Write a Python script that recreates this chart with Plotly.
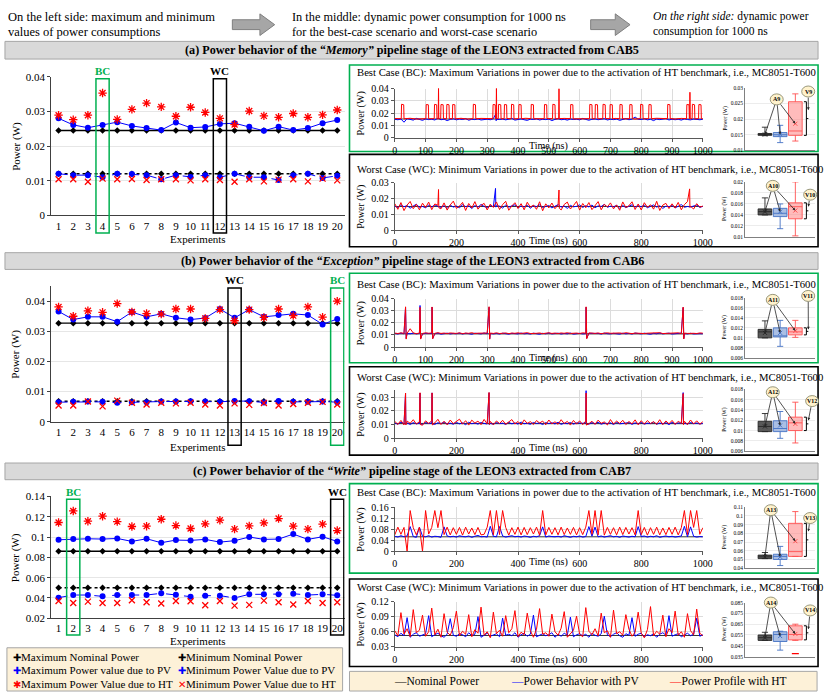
import plotly.graph_objects as go

W, H = 831, 698
SERIF = 'Liberation Serif'
BLUE = '#0000ff'
RED = '#ff0000'
GREEN = '#00b050'

# ════════════════════════════════════════════════════════════════════
#  Left: max / min power per experiment (W)
# ════════════════════════════════════════════════════════════════════
EXPERIMENTS = list(range(1, 21))

A_MAX_NOM, A_MIN_NOM = 0.0245, 0.0120
A_MAX_PV = [0.0280, 0.0261, 0.0253, 0.0261, 0.0269, 0.0258, 0.0252, 0.0246, 0.0268, 0.0253,
            0.0255, 0.0264, 0.0266, 0.0256, 0.0244, 0.0256, 0.0246, 0.0252, 0.0266, 0.0275]
A_MAX_HT = [0.0289, 0.0276, 0.0289, 0.0353, 0.0277, 0.0306, 0.0324, 0.0313, 0.0286, 0.0312,
            0.0297, 0.0280, 0.0262, 0.0301, 0.0287, 0.0283, 0.0294, 0.0283, 0.0290, 0.0304]
A_MIN_PV = [0.0120, 0.0116, 0.0116, 0.0110, 0.0120, 0.0119, 0.0116, 0.0104, 0.0116, 0.0111,
            0.0116, 0.0110, 0.0120, 0.0110, 0.0110, 0.0102, 0.0116, 0.0120, 0.0108, 0.0114]
A_MIN_HT = [0.0104, 0.0104, 0.0097, 0.0106, 0.0104, 0.0105, 0.0102, 0.0104, 0.0104, 0.0101,
            0.0104, 0.0102, 0.0097, 0.0104, 0.0098, 0.0103, 0.0104, 0.0098, 0.0106, 0.0101]

B_MAX_NOM, B_MIN_NOM = 0.0327, 0.0068
B_MAX_PV = [0.0366, 0.0339, 0.0348, 0.0348, 0.0332, 0.0364, 0.0348, 0.0358, 0.0345, 0.0339,
            0.0344, 0.0374, 0.0345, 0.0372, 0.0348, 0.0354, 0.0358, 0.0354, 0.0323, 0.0341]
B_MAX_HT = [0.0381, 0.0350, 0.0368, 0.0363, 0.0392, 0.0364, 0.0359, 0.0357, 0.0374, 0.0374,
            0.0343, 0.0372, 0.0335, 0.0372, 0.0346, 0.0374, 0.0352, 0.0381, 0.0347, 0.0400]
B_MIN_PV = [0.0065, 0.0066, 0.0067, 0.0066, 0.0063, 0.0065, 0.0065, 0.0067, 0.0067, 0.0068,
            0.0067, 0.0066, 0.0069, 0.0068, 0.0064, 0.0069, 0.0066, 0.0066, 0.0067, 0.0065]
B_MIN_HT = [0.0054, 0.0054, 0.0067, 0.0051, 0.0070, 0.0063, 0.0057, 0.0063, 0.0061, 0.0063,
            0.0057, 0.0054, 0.0061, 0.0056, 0.0062, 0.0054, 0.0059, 0.0063, 0.0066, 0.0057]

C_MAX_NOM, C_MIN_NOM = 0.0860, 0.0500
C_MAX_PV = [0.0973, 0.0980, 0.0983, 0.0980, 0.0986, 0.0957, 0.0983, 0.0944, 0.0970, 0.0967,
            0.0977, 0.0950, 0.0964, 0.1000, 0.0977, 0.0980, 0.1029, 0.0977, 0.1003, 0.0957]
C_MAX_HT = [0.1143, 0.1257, 0.1156, 0.1205, 0.1152, 0.1104, 0.1107, 0.1175, 0.1113, 0.1084,
            0.1130, 0.1166, 0.1078, 0.1110, 0.1140, 0.1182, 0.1107, 0.1078, 0.1127, 0.1064]
C_MIN_PV = [0.0403, 0.0429, 0.0429, 0.0416, 0.0429, 0.0429, 0.0429, 0.0446, 0.0433, 0.0413,
            0.0423, 0.0423, 0.0400, 0.0436, 0.0436, 0.0436, 0.0442, 0.0429, 0.0436, 0.0426]
C_MIN_HT = [0.0371, 0.0351, 0.0364, 0.0351, 0.0351, 0.0377, 0.0358, 0.0345, 0.0371, 0.0367,
            0.0328, 0.0371, 0.0325, 0.0332, 0.0374, 0.0358, 0.0335, 0.0371, 0.0351, 0.0358]

# ════════════════════════════════════════════════════════════════════
#  Middle: power over 1000 ns (mW)
#  base series sampled every 10 ns, plus narrow spikes as (time ns, mW)
# ════════════════════════════════════════════════════════════════════
T_NS = list(range(0, 1001, 10))

A_BC_NOM = 15.2
A_BC_PV = [15.0, 14.6, 15.2, 12.6, 15.5, 14.8, 14.3, 15.7, 14.9, 14.1,
           15.3, 14.7, 15.0, 14.4, 15.8, 14.6, 15.1, 13.9, 14.9, 15.4,
           14.5, 15.2, 14.8, 15.6, 14.2, 15.0, 14.7, 15.3, 14.4, 14.9,
           15.1, 14.6, 15.5, 15.0, 14.8, 15.2, 14.5, 15.0, 15.7, 14.3,
           14.9, 15.3, 14.6, 14.1, 15.1, 14.8, 15.4, 14.4, 15.0, 14.7,
           15.2, 13.9, 14.9, 15.5, 14.6, 15.0, 14.3, 15.2, 14.8, 15.1,
           14.5, 15.7, 14.9, 14.2, 15.0, 15.3, 14.6, 14.8, 15.5, 14.4,
           15.0, 14.7, 15.2, 14.1, 14.9, 15.6, 14.6, 15.1, 16.8, 15.0,
           14.8, 15.4, 14.5, 15.0, 13.9, 15.2, 14.7, 14.9, 15.6, 14.4,
           15.1, 14.6, 15.0, 14.3, 15.3, 14.8, 14.5, 15.2, 14.9, 14.6, 15.0]
A_BC_PV_SPIKES = [(328, 19.5), (329, 13.8)]
# HT profile of the best case (a): (time ns, mW) with its pulses and spikes
A_BC_HT = [(0, 15.6), (10, 15.3), (21, 15.5), (22, 27.2), (29, 26.8), (30, 15.4), (50, 15.8), (70, 15.2), (90, 15.6),
           (101, 15.5), (102, 27.0), (109, 26.8), (110, 15.4), (118, 15.7),
           (128, 15.5), (129, 27.1), (136, 26.8), (137, 15.3), (141, 15.5), (142, 40.5), (143, 15.4),
           (149, 15.5), (150, 27.0), (157, 26.8), (158, 15.5), (168, 15.4), (169, 27.1), (176, 26.8), (177, 15.6),
           (187, 15.5), (188, 27.0), (195, 26.8), (196, 15.3), (215, 15.8), (235, 15.2),
           (254, 15.5), (255, 27.2), (262, 26.8), (263, 15.4), (280, 15.7), (300, 15.3),
           (318, 15.5), (319, 27.0), (326, 26.8), (327, 15.5), (329, 15.5), (330, 42.0), (331, 15.4),
           (336, 15.5), (337, 27.1), (344, 26.8), (345, 15.4), (355, 15.5), (356, 27.0), (363, 26.8), (364, 15.6),
           (378, 15.5), (379, 27.2), (386, 26.8), (387, 15.3), (402, 15.5), (403, 27.0), (410, 26.8), (411, 15.5),
           (425, 15.8), (442, 15.5), (443, 27.1), (450, 26.8), (451, 15.4), (465, 15.2),
           (485, 15.5), (486, 27.0), (493, 26.8), (494, 15.6), (512, 15.5), (513, 27.2), (520, 26.8), (521, 15.4),
           (532, 15.5), (533, 40.0), (534, 15.5), (550, 15.7),
           (570, 15.5), (571, 27.0), (578, 26.8), (579, 15.3), (600, 15.6), (615, 15.2),
           (632, 15.5), (633, 27.1), (640, 26.8), (641, 15.5), (650, 15.5), (651, 27.0), (658, 26.8), (659, 15.4),
           (675, 15.5), (676, 27.2), (683, 26.8), (684, 15.6), (698, 15.5), (699, 27.0), (706, 26.8), (707, 15.3),
           (715, 15.7), (730, 15.5), (731, 27.1), (738, 26.8), (739, 15.5), (745, 15.4),
           (762, 15.5), (763, 27.0), (770, 26.8), (771, 15.6), (780, 15.2),
           (797, 15.5), (798, 27.2), (805, 26.8), (806, 15.4), (824, 15.5), (825, 27.0), (832, 26.8), (833, 15.5),
           (850, 15.8), (870, 15.3), (885, 15.5), (886, 27.1), (893, 26.8), (894, 15.6), (910, 15.2), (930, 15.7),
           (947, 15.5), (948, 27.0), (955, 26.8), (956, 15.5), (957, 15.5), (958, 37.0), (959, 15.4),
           (965, 15.5), (966, 27.2), (973, 26.8), (974, 15.3), (986, 15.5), (987, 27.0), (994, 26.8), (995, 15.5),
           (1000, 15.4)]

A_WC_NOM = 15.0
A_WC_PV = [15.2, 14.3, 16.1, 14.8, 15.6, 13.9, 15.3, 16.4, 14.5, 15.0,
           14.2, 15.8, 14.7, 16.0, 15.1, 14.4, 15.5, 13.8, 15.9, 14.6,
           15.3, 14.1, 16.2, 14.9, 15.4, 13.7, 15.6, 14.5, 16.3, 15.0,
           14.3, 15.7, 14.8, 15.5, 15.2, 14.0, 15.9, 14.6, 15.4, 16.1,
           14.2, 15.3, 14.7, 15.8, 13.9, 15.5, 14.9, 16.0, 14.4, 15.2,
           15.6, 14.1, 15.0, 16.2, 14.6, 15.3, 13.8, 15.7, 14.8, 15.1,
           16.0, 14.4, 15.5, 14.7, 15.9, 14.2, 15.4, 15.0, 16.3, 14.5,
           15.2, 14.8, 15.7, 13.9, 15.6, 14.3, 15.1, 16.1, 14.7, 15.4,
           14.9, 15.8, 14.2, 15.3, 16.0, 14.6, 15.5, 13.8, 15.2, 14.9,
           15.6, 14.1, 15.4, 16.2, 14.5, 15.0, 14.7, 15.3, 15.9, 14.4, 15.1]
A_WC_PV_SPIKES = [(327, 26.5), (328, 14.6)]
A_WC_HT = [16.8, 13.2, 17.5, 12.4, 15.9, 18.2, 13.6, 16.4, 12.9, 17.1,
           14.3, 17.8, 13.0, 16.6, 15.8, 13.5, 17.3, 12.7, 16.0, 18.4,
           13.8, 15.2, 17.6, 12.5, 16.9, 14.0, 18.1, 13.3, 15.7, 17.0,
           12.8, 16.5, 14.4, 17.9, 13.1, 16.2, 18.3, 12.6, 15.4, 17.4,
           13.7, 16.8, 12.9, 17.7, 14.6, 15.9, 13.2, 18.0, 12.3, 16.7,
           14.1, 17.2, 13.6, 16.0, 12.8, 16.3, 17.8, 13.4, 15.6, 18.2,
           12.7, 16.9, 14.2, 17.5, 13.0, 15.8, 18.1, 12.9, 16.4, 14.7,
           17.3, 13.5, 16.0, 12.6, 17.9, 14.3, 15.5, 18.0, 13.1, 16.6,
           12.8, 17.4, 14.5, 16.1, 13.3, 18.3, 12.5, 15.9, 17.0, 13.7,
           16.7, 14.0, 17.6, 12.9, 16.2, 18.1, 15.1, 13.4, 16.8, 14.6, 15.3]
A_WC_HT_SPIKES = [(142, 25.8), (143, 14.2), (533, 25.5), (534, 13.9), (957, 26.2), (958, 14.5)]

B_BC_NOM = 11.0
B_BC_PV = [11.3, 10.8, 11.6, 11.0, 11.2, 11.0, 11.5, 10.9, 11.3, 10.9,
           11.4, 11.1, 11.2, 11.0, 11.6, 10.7, 11.2, 11.5, 10.9, 11.3,
           11.0, 11.6, 10.8, 11.4, 11.1, 10.6, 11.5, 11.2, 10.9, 11.7,
           11.0, 11.3, 10.9, 11.3, 10.8, 11.5, 11.1, 10.7, 11.4, 11.2,
           10.9, 11.6, 11.0, 11.3, 10.8, 11.5, 11.1, 10.6, 11.4, 11.0,
           11.7, 10.9, 11.2, 11.5, 10.8, 11.3, 11.0, 11.6, 10.7, 11.2,
           11.4, 10.9, 11.1, 11.4, 11.5, 11.0, 11.3, 10.8, 11.6, 11.1,
           10.9, 11.4, 11.2, 10.7, 11.5, 11.0, 11.3, 10.8, 11.6, 11.2,
           10.9, 11.5, 11.1, 10.6, 11.4, 11.0, 11.7, 10.9, 11.3, 11.5,
           10.8, 11.2, 11.0, 11.6, 11.2, 10.9, 11.4, 10.9, 11.3, 11.1, 11.0]
B_BC_PV_SPIKES = [(35, 33.0), (37, 7.2), (82, 34.5), (84, 7.0), (121, 33.2), (123, 7.1),
                  (306, 33.0), (308, 6.8), (621, 33.1), (623, 7.3), (936, 32.8), (938, 7.0)]
B_BC_HT = [11.6, 11.2, 11.8, 11.3, 11.5, 15.2, 11.7, 11.1, 11.6, 11.3,
           11.8, 11.4, 11.7, 11.4, 11.9, 11.3, 11.6, 11.2, 11.7, 11.5,
           11.3, 11.8, 11.1, 11.6, 11.4, 11.9, 11.2, 11.5, 11.7, 11.3,
           11.6, 11.6, 11.3, 11.8, 11.2, 11.5, 11.7, 11.1, 11.6, 11.4,
           11.8, 11.3, 11.5, 11.9, 11.2, 11.6, 11.4, 11.7, 11.1, 11.5,
           11.8, 11.3, 11.6, 11.2, 11.7, 11.4, 11.9, 11.3, 11.5, 11.6,
           11.2, 11.8, 11.5, 11.7, 11.6, 11.3, 11.7, 11.1, 11.5, 11.8,
           11.4, 11.6, 11.2, 11.7, 11.3, 11.9, 11.5, 11.1, 11.6, 11.4,
           11.8, 11.2, 11.5, 11.7, 11.3, 11.6, 11.9, 11.2, 11.4, 11.7,
           11.3, 11.5, 11.8, 11.1, 11.6, 11.3, 11.6, 11.4, 11.2, 11.7, 11.5]
B_BC_HT_SPIKES = [(35, 33.4), (37, 6.6), (82, 33.0), (84, 6.6), (121, 33.3), (123, 6.8),
                  (306, 33.5), (308, 6.5), (621, 33.4), (623, 6.9), (936, 33.2), (938, 6.7)]

B_WC_NOM = 10.9
B_WC_PV = [11.2, 10.4, 11.8, 10.7, 11.3, 10.1, 11.5, 10.6, 11.0, 10.3,
           11.6, 10.9, 11.2, 10.2, 11.4, 10.8, 11.9, 10.5, 11.1, 10.3,
           11.7, 10.6, 11.3, 10.0, 11.8, 10.7, 11.2, 10.4, 11.6, 10.9,
           10.5, 11.0, 10.3, 11.5, 10.8, 11.1, 10.2, 11.7, 10.6, 11.3,
           10.4, 11.9, 10.7, 11.0, 10.3, 11.6, 10.9, 11.2, 10.1, 11.5,
           10.8, 11.4, 10.5, 11.8, 10.2, 11.1, 10.7, 11.6, 10.4, 11.3,
           10.9, 11.0, 11.4, 10.4, 11.5, 10.6, 11.8, 10.3, 11.2, 10.8,
           11.4, 10.1, 11.7, 10.6, 11.0, 10.9, 11.5, 10.2, 11.3, 10.7,
           11.6, 10.4, 11.1, 10.8, 11.9, 10.3, 11.2, 10.6, 11.5, 10.0,
           11.7, 10.5, 11.3, 10.9, 11.1, 10.4, 11.6, 10.7, 11.2, 10.5, 11.0]
B_WC_PV_SPIKES = [(35, 32.9), (36, 10.2), (82, 33.0), (83, 10.4), (121, 33.1), (122, 10.5),
                  (306, 33.2), (307, 10.1), (621, 34.8), (622, 10.3), (936, 33.3), (937, 10.6)]
B_WC_HT = [12.4, 10.2, 13.1, 9.8, 12.6, 11.0, 13.6, 10.5, 12.1, 9.6,
           12.8, 10.9, 12.9, 11.3, 13.9, 10.1, 12.5, 9.9, 13.4, 10.7,
           12.1, 14.0, 10.4, 12.9, 9.7, 13.3, 11.1, 12.6, 10.0, 13.8,
           10.6, 12.4, 9.9, 12.7, 10.8, 13.2, 10.3, 12.0, 13.7, 10.5,
           12.3, 9.8, 13.5, 10.9, 12.2, 10.1, 13.0, 11.2, 12.6, 9.9,
           13.4, 10.6, 12.1, 10.3, 13.6, 10.8, 12.4, 9.7, 13.1, 10.4,
           12.8, 10.0, 12.7, 10.7, 12.5, 10.2, 13.3, 11.0, 12.0, 9.8,
           13.7, 10.5, 12.6, 10.9, 13.2, 10.1, 12.3, 10.6, 13.5, 9.9,
           12.9, 10.4, 13.0, 10.8, 12.2, 10.3, 13.6, 10.0, 12.7, 10.6,
           13.1, 10.2, 12.5, 10.9, 12.5, 10.1, 13.4, 10.5, 12.8, 10.3, 12.2]
B_WC_HT_SPIKES = [(35, 33.0), (36, 9.9), (82, 33.2), (83, 10.1), (121, 33.1), (122, 9.8),
                  (306, 33.4), (307, 10.2), (621, 33.0), (622, 9.7), (936, 32.6), (937, 10.0)]

C_BC_NOM = 53.0
C_BC_PV = [55, 52, 57, 53, 56, 90, 54, 51, 88, 55,
           53, 57, 52, 55, 54, 51, 89, 56, 53, 55,
           52, 57, 54, 53, 56, 51, 55, 58, 53, 54,
           52, 91, 55, 53, 90, 56, 52, 54, 57, 53,
           55, 52, 56, 54, 51, 55, 53, 57, 89, 52,
           56, 54, 53, 55, 52, 57, 54, 51, 55, 53,
           56, 52, 54, 90, 55, 88, 53, 56, 52, 54,
           57, 53, 55, 51, 56, 54, 52, 55, 53, 90,
           54, 56, 52, 55, 53, 57, 51, 54, 56, 53,
           55, 52, 54, 56, 91, 53, 89, 55, 52, 54, 53]
C_BC_HT = [60, 88, 62, 87, 0, 148, 86, 60, 88, 0,
           148, 63, 87, 148, 86, 148, 61, 88, 60, 86,
           62, 87, 59, 88, 63, 85, 61, 87, 60, 62,
           88, 148, 60, 148, 61, 148, 87, 59, 86, 62,
           88, 60, 87, 61, 86, 63, 88, 59, 148, 60,
           87, 62, 86, 60, 88, 61, 85, 62, 87, 60,
           86, 61, 88, 148, 62, 148, 60, 148, 59, 87,
           62, 86, 60, 88, 61, 87, 63, 86, 60, 148,
           61, 87, 59, 86, 62, 88, 60, 85, 61, 87,
           62, 88, 60, 86, 148, 61, 148, 87, 148, 62, 86]

C_WC_NOM = 52.5
C_WC_PV = [54, 50, 57, 52, 88, 49, 55, 58, 51, 53,
           56, 92, 50, 54, 57, 52, 49, 55, 86, 53,
           51, 56, 54, 50, 58, 52, 55, 90, 49, 53,
           57, 51, 54, 56, 50, 87, 53, 55, 52, 58,
           49, 54, 57, 51, 55, 93, 50, 53, 56, 52,
           54, 58, 49, 55, 51, 57, 53, 89, 50, 54,
           56, 52, 55, 49, 57, 53, 51, 56, 91, 54,
           50, 55, 58, 52, 49, 56, 53, 88, 51, 55,
           57, 50, 54, 52, 56, 49, 55, 58, 53, 92,
           51, 54, 56, 50, 53, 57, 52, 55, 87, 51, 54]
C_WC_HT = [62, 52, 98, 55, 66, 50, 104, 58, 63, 93,
           51, 60, 107, 54, 65, 49, 96, 59, 53, 68,
           101, 52, 61, 55, 94, 50, 64, 57, 109, 53,
           60, 48, 99, 56, 63, 51, 92, 58, 66, 102,
           50, 59, 54, 97, 62, 49, 65, 106, 55, 58,
           51, 95, 60, 53, 67, 100, 49, 57, 63, 91,
           55, 50, 108, 61, 54, 66, 52, 97, 58, 62,
           49, 103, 56, 60, 53, 94, 65, 51, 59, 99,
           57, 48, 64, 110, 52, 61, 55, 93, 50, 66,
           58, 101, 53, 60, 49, 96, 62, 54, 105, 57, 52]

# ════════════════════════════════════════════════════════════════════
#  Right: box statistics (W), order = [Nominal, PV, HT]
# ════════════════════════════════════════════════════════════════════
A_BC_BOX = dict(q1=[0.0148, 0.0144, 0.0148], med=[0.0151, 0.0150, 0.0162], q3=[0.0154, 0.0157, 0.0255],
                lo=[0.0147, 0.0125, 0.0130], hi=[0.0174, 0.0180, 0.0280], mean=[0.0151, 0.0151, 0.0185])
A_WC_BOX = dict(q1=[0.0140, 0.0137, 0.0133], med=[0.0146, 0.0143, 0.0155], q3=[0.0151, 0.0152, 0.0162],
                lo=[0.0140, 0.0115, 0.0102], hi=[0.0171, 0.0160, 0.0200], mean=[0.0146, 0.0146, 0.0148])
B_BC_BOX = dict(q1=[0.0100, 0.0102, 0.0106], med=[0.0112, 0.0103, 0.0112], q3=[0.0117, 0.0120, 0.0120],
                lo=[0.0100, 0.0083, 0.0101], hi=[0.0134, 0.0135, 0.0135], mean=[0.0110, 0.0110, 0.0114])
B_WC_BOX = dict(q1=[0.0098, 0.0098, 0.0100], med=[0.0108, 0.0104, 0.0115], q3=[0.0118, 0.0119, 0.0126],
                lo=[0.0098, 0.0085, 0.0076], hi=[0.0133, 0.0137, 0.0155], mean=[0.0108, 0.0110, 0.0113])
C_BC_BOX = dict(q1=[0.0510, 0.0500, 0.0535], med=[0.0530, 0.0535, 0.0590], q3=[0.0550, 0.0560, 0.0915],
                lo=[0.0510, 0.0430, 0.0535], hi=[0.0580, 0.0650, 0.1050], mean=[0.0530, 0.0530, 0.0710])
C_WC_BOX = dict(q1=[0.0500, 0.0490, 0.0505], med=[0.0525, 0.0555, 0.0555], q3=[0.0550, 0.0580, 0.0635],
                lo=[0.0500, 0.0410, 0.0500], hi=[0.0575, 0.0585, 0.0650], mean=[0.0525, 0.0540, 0.0560])
C_WC_HT_OUTLIER = 0.0378

BOX_FILL = ['#595959', 'rgba(142,169,219,0.75)', 'rgba(255,120,120,0.5)']
BOX_LINE = ['#262626', '#4472c4', '#ff5050']


# ════════════════════════════════════════════════════════════════════
#  helpers: pixel layout -> paper coordinates
# ════════════════════════════════════════════════════════════════════
def px(x):
    return x / W


def py(y):
    return 1 - y / H


def xd(a, b):
    return [a / W, b / W]


def yd(top, bot):
    return [1 - bot / H, 1 - top / H]


def aid(n, ax):
    return ax if n == 1 else f'{ax}{n}'


def with_spikes(base, spikes=()):
    """Merge the 10 ns base series with the narrow spike points, sorted by time."""
    pts = sorted(list(zip(T_NS, base)) + list(spikes))
    return [p[0] for p in pts], [p[1] for p in pts]


fig = go.Figure()
layout = {}
shapes, annotations = [], []


def rect(x0, y0, x1, y1, color, width=1.0, fill=None):
    shapes.append(dict(type='rect', xref='paper', yref='paper', x0=px(x0), x1=px(x1), y0=py(y1), y1=py(y0),
                       line=dict(color=color, width=width), fillcolor=fill or 'rgba(0,0,0,0)', layer='below'))


def text(x, y, s, size=11, anchor='left', **kw):
    annotations.append(dict(x=px(x), y=py(y), xref='paper', yref='paper', text=s, showarrow=False,
                            xanchor=anchor, yanchor='middle', borderpad=0,
                            font=dict(family=SERIF, size=size, color='black'), **kw))


def arrow(head, tail):
    # head / tail in page pixels; tail given as pixel offset from the head
    annotations.append(dict(x=px(head[0]), y=py(head[1]), xref='paper', yref='paper',
                            ax=tail[0] - head[0], ay=tail[1] - head[1], text='', showarrow=True,
                            arrowhead=2, arrowsize=0.7, arrowwidth=0.8, arrowcolor='#262626', startstandoff=5))


# ── header ──────────────────────────────────────────────────────────
def block_arrow(x0, x1, yc):
    pts = [(x0, yc - 5), (x1 - 15, yc - 5), (x1 - 15, yc - 11), (x1, yc), (x1 - 15, yc + 11),
           (x1 - 15, yc + 5), (x0, yc + 5)]
    path = 'M ' + ' L '.join(f'{px(a):.5f},{py(b):.5f}' for a, b in pts) + ' Z'
    shapes.append(dict(type='path', xref='paper', yref='paper', path=path,
                       fillcolor='#a6a6a6', line=dict(color='#7f7f7f', width=1)))


text(4, 11, 'On the left side: maximum and minimum', 12.5)
text(4, 26, 'values of power consumptions', 12.5)
block_arrow(233, 276, 19)
text(293, 11, 'In the middle: dynamic power consumption for 1000 ns', 12.3)
text(293, 26, 'for the best-case scenario and worst-case scenario', 12.3)
block_arrow(597, 637, 19)
text(659, 11, '<i>On the right side:</i> dynamic power', 11.5)
text(659, 26, 'consumption for 1000 ns', 11.5)

# ── section bars ───────────────────────────────────────────────────
SECTIONS = [
    (36, 54, '(a) Power behavior of the <i>“Memory”</i> pipeline stage of the LEON3 extracted from CAB5'),
    (251, 268, '(b) Power behavior of the <i>“Exception”</i> pipeline stage of the LEON3 extracted from CAB6'),
    (465, 482, '(c) Power behavior of the <i>“Write”</i> pipeline stage of the LEON3 extracted from CAB7'),
]
for top, bot, label in SECTIONS:
    rect(2, top, 828, bot, '#a6a6a6', 1, '#d9d9d9')
    text(416, (top + bot) / 2, f'<b>{label}</b>', 12.2, 'center')


# ════════════════════════════════════════════════════════════════════
#  left charts
# ════════════════════════════════════════════════════════════════════
def add_left(n, top, bot, rng, dtick, nom_max, nom_min, pv_max, pv_min, ht_max, ht_min,
             bc, wc, frame_top, frame_bot, label_y, title_y):
    xa, ya = aid(n, 'x'), aid(n, 'y')
    k = len(EXPERIMENTS)
    common = dict(x=EXPERIMENTS, xaxis=xa, yaxis=ya, hoverinfo='skip')
    fig.add_trace(go.Scatter(y=[nom_max] * k, mode='lines+markers', line=dict(color='black', width=1.4),
                             marker=dict(symbol='diamond', size=5, color='black'), **common))
    fig.add_trace(go.Scatter(y=[nom_min] * k, mode='lines+markers',
                             line=dict(color='black', width=1.4, dash='dot'),
                             marker=dict(symbol='diamond', size=5, color='black'), **common))
    fig.add_trace(go.Scatter(y=pv_max, mode='lines+markers', line=dict(color=BLUE, width=1),
                             marker=dict(symbol='circle', size=6, color=BLUE), **common))
    fig.add_trace(go.Scatter(y=pv_min, mode='lines+markers', line=dict(color=BLUE, width=1, dash='dash'),
                             marker=dict(symbol='circle', size=6, color=BLUE), **common))
    fig.add_trace(go.Scatter(y=ht_max, mode='markers',
                             marker=dict(symbol='asterisk-open', size=7, color=RED, line=dict(width=1.3)), **common))
    fig.add_trace(go.Scatter(y=ht_min, mode='markers',
                             marker=dict(symbol='x-thin-open', size=6, color=RED, line=dict(width=1.3)), **common))

    layout[aid(n, 'xaxis')] = dict(domain=xd(49, 347), range=[0.5, 20.5], tickvals=EXPERIMENTS, anchor=ya,
                                   showline=True, linecolor='#404040', showgrid=False, zeroline=False,
                                   ticks='', tickfont=dict(family=SERIF, size=11))
    layout[aid(n, 'yaxis')] = dict(domain=yd(top, bot), range=rng, dtick=dtick, tick0=rng[0], anchor=xa,
                                   showline=True, linecolor='#404040', ticks='outside', ticklen=3,
                                   tickcolor='#404040', showgrid=True, gridcolor='#e6e6e6', zeroline=False,
                                   tickfont=dict(family=SERIF, size=11))
    text(13, (top + bot) / 2, 'Power (W)', 11, 'center', textangle=-90)
    text(198, title_y, 'Experiments', 11, 'center')
    for pos, name, color in ((bc, 'BC', GREEN), (wc, 'WC', 'black')):
        shapes.append(dict(type='rect', xref=xa, yref='paper', x0=pos - 0.45, x1=pos + 0.45,
                           y0=py(frame_bot), y1=py(frame_top), line=dict(color=color, width=1.5)))
        annotations.append(dict(x=pos, y=py(label_y), xref=xa, yref='paper', text=f'<b>{name}</b>',
                                showarrow=False, yanchor='middle', borderpad=0,
                                font=dict(family=SERIF, size=11, color=color)))


add_left(1, 72, 213, [0, 0.04], 0.01, A_MAX_NOM, A_MIN_NOM, A_MAX_PV, A_MIN_PV, A_MAX_HT, A_MIN_HT,
         4, 12, 74, 231, 66, 237)
add_left(2, 285, 423, [0, 0.045], 0.01, B_MAX_NOM, B_MIN_NOM, B_MAX_PV, B_MIN_PV, B_MAX_HT, B_MIN_HT,
         20, 13, 287, 447, 279, 449)
add_left(3, 499, 623, [0.02, 0.14], 0.02, C_MAX_NOM, C_MIN_NOM, C_MAX_PV, C_MIN_PV, C_MAX_HT, C_MIN_HT,
         2, 20, 502, 640, 494, 646)


# ════════════════════════════════════════════════════════════════════
#  middle time traces
# ════════════════════════════════════════════════════════════════════
BC_TITLE = 'Best Case (BC): Maximum Variations in power due to the activation of HT benchmark, i.e., MC8051-T600'
WC_TITLE = 'Worst Case (WC): Minimum Variations in power due to the activation of HT benchmark, i.e., MC8051-T600'


def add_middle(n, top, bot, rng, dtick, xdtick, nom, pv, ht, tick_y, frame, frame_color, title, title_y):
    xa, ya = aid(n, 'x'), aid(n, 'y')
    common = dict(xaxis=xa, yaxis=ya, mode='lines', hoverinfo='skip')
    fig.add_trace(go.Scatter(x=[T_NS[0], T_NS[-1]], y=[nom / 1000] * 2,
                             line=dict(color='black', width=0.8), **common))
    fig.add_trace(go.Scatter(x=pv[0], y=[v / 1000 for v in pv[1]], line=dict(color=BLUE, width=1), **common))
    fig.add_trace(go.Scatter(x=ht[0], y=[v / 1000 for v in ht[1]], line=dict(color=RED, width=1), **common))
    layout[aid(n, 'xaxis')] = dict(domain=xd(398, 711), range=[0, 1000], dtick=xdtick, anchor=ya,
                                   showline=True, linecolor='#595959', showgrid=True, gridcolor='#dcdcdc',
                                   zeroline=False, ticks='outside', ticklen=3, tickcolor='#595959',
                                   tickfont=dict(family=SERIF, size=10))
    layout[aid(n, 'yaxis')] = dict(domain=yd(top, bot), range=rng, dtick=dtick, tick0=rng[0], anchor=xa,
                                   showline=True, linecolor='#595959', showgrid=True, gridcolor='#dcdcdc',
                                   zeroline=False, ticks='outside', ticklen=3, tickcolor='#595959',
                                   tickfont=dict(family=SERIF, size=10))
    rect(352, frame[0], 828, frame[1], frame_color, 1.6)
    text(359, title_y, title, 10.7)
    text(364, (top + bot) / 2, 'Power (W)', 10, 'center', textangle=-90)
    annotations.append(dict(x=500, y=py(tick_y), xref=xa, yref='paper', text='Time (ns)', showarrow=False,
                            yanchor='middle', borderpad=0, font=dict(family=SERIF, size=10, color='black')))


a_bc_ht = ([p[0] for p in A_BC_HT], [p[1] for p in A_BC_HT])
add_middle(4, 84, 134, [0, 0.04], 0.01, 100, A_BC_NOM, with_spikes(A_BC_PV, A_BC_PV_SPIKES), a_bc_ht,
           142, (60, 148), GREEN, BC_TITLE, 68)
add_middle(5, 180, 228, [0, 0.03], 0.01, 200, A_WC_NOM, with_spikes(A_WC_PV, A_WC_PV_SPIKES),
           with_spikes(A_WC_HT, A_WC_HT_SPIKES), 239, (151, 245), 'black', WC_TITLE, 166)
add_middle(6, 298, 347, [0, 0.04], 0.01, 100, B_BC_NOM, with_spikes(B_BC_PV, B_BC_PV_SPIKES),
           with_spikes(B_BC_HT, B_BC_HT_SPIKES), 358, (272, 363), GREEN, BC_TITLE, 283)
add_middle(7, 391, 440, [0, 0.035], 0.01, 200, B_WC_NOM, with_spikes(B_WC_PV, B_WC_PV_SPIKES),
           with_spikes(B_WC_HT, B_WC_HT_SPIKES), 450, (367, 457), 'black', WC_TITLE, 378)
add_middle(8, 510, 555, [0, 0.16], 0.04, 200, C_BC_NOM, with_spikes(C_BC_PV), with_spikes(C_BC_HT),
           566, (486, 577), GREEN, BC_TITLE, 495)
add_middle(9, 606, 652, [0.03, 0.12], 0.03, 200, C_WC_NOM, with_spikes(C_WC_PV), with_spikes(C_WC_HT),
           665, (583, 672), 'black', WC_TITLE, 592)

# ════════════════════════════════════════════════════════════════════
#  right box plots
# ════════════════════════════════════════════════════════════════════
BOX_X0, BOX_X1 = 754, 825
BOX_XR = [-1.3, 3.3]


def add_box(n, top, bot, rng, dtick, stats, a_name, a_xy, v_name, v_xy, outlier=None):
    xa, ya = aid(n, 'x'), aid(n, 'y')

    def to_px(xv, yv):
        bx = BOX_X0 + (xv - BOX_XR[0]) / (BOX_XR[1] - BOX_XR[0]) * (BOX_X1 - BOX_X0)
        by = bot - (yv - rng[0]) / (rng[1] - rng[0]) * (bot - top)
        return bx, by

    for i in range(3):
        fig.add_trace(go.Box(x=[i], q1=[stats['q1'][i]], median=[stats['med'][i]], q3=[stats['q3'][i]],
                             lowerfence=[stats['lo'][i]], upperfence=[stats['hi'][i]], width=0.9,
                             fillcolor=BOX_FILL[i], line=dict(color=BOX_LINE[i], width=0.9),
                             whiskerwidth=0.45, boxpoints=False, xaxis=xa, yaxis=ya, hoverinfo='skip'))
    fig.add_trace(go.Scatter(x=[0, 1, 2], y=stats['mean'], mode='markers', xaxis=xa, yaxis=ya,
                             marker=dict(symbol='x-thin-open', size=4, color=BOX_LINE, line=dict(width=1)),
                             hoverinfo='skip'))
    if outlier is not None:
        fig.add_trace(go.Scatter(x=[2], y=[outlier], mode='markers', xaxis=xa, yaxis=ya,
                                 marker=dict(symbol='line-ew-open', size=5, color=RED, line=dict(width=1.2)),
                                 hoverinfo='skip'))
    layout[aid(n, 'xaxis')] = dict(domain=xd(BOX_X0, BOX_X1), range=BOX_XR, anchor=ya, showticklabels=False,
                                   showline=True, linecolor='#808080', showgrid=False, zeroline=False, ticks='')
    layout[aid(n, 'yaxis')] = dict(domain=yd(top, bot), range=rng, dtick=dtick, tick0=rng[0], anchor=xa,
                                   showline=True, linecolor='#808080', showgrid=True, gridcolor='#ececec',
                                   zeroline=False, ticks='', tickfont=dict(family=SERIF, size=5.5))
    text(733, (top + bot) / 2, 'Power (W)', 5.5, 'center', textangle=-90)

    # arrows from the "A" bubble to each mean
    for i in range(3):
        arrow(to_px(i, stats['mean'][i]), a_xy)
    # bracket beside the HT box and the "V" bubble
    bx, by_top = to_px(2.5, stats['q3'][2])
    _, by_bot = to_px(2.5, stats['q1'][2])
    xa0, xa1, xa2 = bx + 1, bx + 3.5, bx + 5.5
    ym = (by_top + by_bot) / 2
    path = (f'M {px(xa0):.5f},{py(by_top):.5f} L {px(xa1):.5f},{py(by_top):.5f} '
            f'L {px(xa1):.5f},{py(by_bot):.5f} L {px(xa0):.5f},{py(by_bot):.5f} '
            f'M {px(xa1):.5f},{py(ym):.5f} L {px(xa2):.5f},{py(ym):.5f}')
    shapes.append(dict(type='path', xref='paper', yref='paper', path=path, line=dict(color='black', width=1)))
    arrow((xa2, (by_top + ym) / 2), v_xy)
    for name, (cx, cy) in ((a_name, a_xy), (v_name, v_xy)):
        shapes.append(dict(type='circle', xref='paper', yref='paper', xsizemode='pixel', ysizemode='pixel',
                           xanchor=px(cx), yanchor=py(cy), x0=-6.5, x1=6.5, y0=-5.5, y1=5.5,
                           fillcolor='#fff2cc', line=dict(color='#7f7f60', width=0.8)))
        text(cx, cy, f'<b>{name}</b>', 6, 'center')


add_box(10, 83, 147, [0.01, 0.03], 0.005, A_BC_BOX, 'A9', (786, 95), 'V9', (818, 87))
add_box(11, 179, 235, [0.01, 0.02], 0.002, A_WC_BOX, 'A10', (782, 183), 'V10', (820, 192))
add_box(12, 297, 358, [0.006, 0.018], 0.002, B_BC_BOX, 'A11', (782, 299), 'V11', (818, 295))
add_box(13, 390, 453, [0.006, 0.018], 0.002, B_WC_BOX, 'A12', (782, 393), 'V12', (822, 402))
add_box(14, 510, 572, [0.04, 0.11], 0.01, C_BC_BOX, 'A13', (780, 513), 'V13', (820, 521))
add_box(15, 607, 662, [0.035, 0.085], 0.01, C_WC_BOX, 'A14', (780, 607), 'V14', (820, 615),
        outlier=C_WC_HT_OUTLIER)

# ════════════════════════════════════════════════════════════════════
#  legends (drawn as text so the two boxes match the original layout)
# ════════════════════════════════════════════════════════════════════
rect(4, 653, 345, 697, '#a6a6a6', 1, '#fdf1d8')
LEFT_LEGEND = [
    (662, ('black', '✚', 'Maximum Nominal Power'), ('black', '✚', 'Minimum Nominal Power')),
    (676, (BLUE, '✚', 'Maximum Power value due to PV'), (BLUE, '✚', 'Minimum Power Value due to PV')),
    (690, (RED, '✱', 'Maximum Power Value due to HT'), (RED, '✕', 'Minimum Power Value due to HT')),
]
for y, left, right in LEFT_LEGEND:
    for x0, (color, sym, label) in ((9, left), (177, right)):
        text(x0, y, f'<span style="color:{color}; font-size:10px">{sym}</span>{label}', 11)

rect(352, 677, 827, 697, '#a6a6a6', 1, '#fdf1d8')
for x0, color, label in ((396, 'black', 'Nominal Power'), (515, BLUE, 'Power Behavior with PV'),
                         (676, RED, 'Power Profile with HT')):
    text(x0, 687, f'<span style="color:{color}">—</span>{label}', 11.5)

layout.update(width=W, height=H, margin=dict(l=0, r=0, t=0, b=0), paper_bgcolor='white',
              plot_bgcolor='white', showlegend=False, font=dict(family=SERIF, color='black'),
              shapes=shapes, annotations=annotations)
fig.update_layout(**layout)
fig.write_html('out.html', config={'displayModeBar': False},
               post_script="document.body.style.margin='0';document.body.style.overflow='hidden';")
